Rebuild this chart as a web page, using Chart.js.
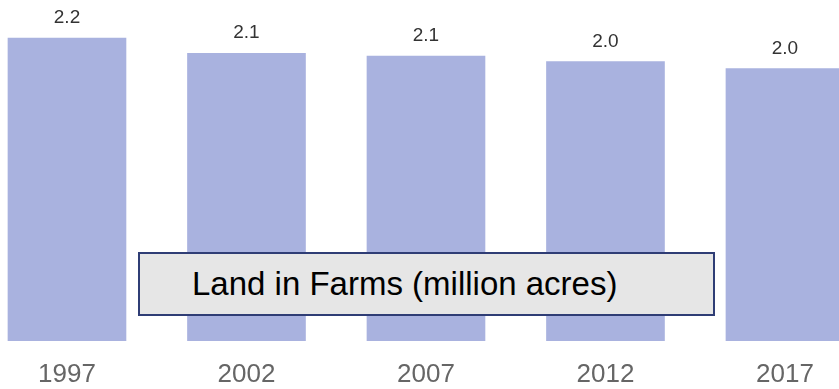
<!DOCTYPE html>
<html>
<head>
<meta charset="utf-8">
<script src="https://cdn.jsdelivr.net/npm/chart.js@4"></script>
<style>
  html, body { margin: 0; padding: 0; background: #ffffff; }
  #wrap { position: relative; width: 839px; height: 389px; overflow: hidden; }
  #chart { position: absolute; left: 0; top: 0; }
  #caption {
    position: absolute; left: 138px; top: 252px; width: 521px; height: 60px;
    background: #e6e6e6; border: 2px solid #2f3d75;
    font-family: "Liberation Sans", Arial, sans-serif; font-size: 33px; color: #000;
    line-height: 60px; padding-left: 52px; box-sizing: content-box; white-space: nowrap;
  }
</style>
</head>
<body>
<div id="wrap">
  <canvas id="chart" width="839" height="389"></canvas>
  <div id="caption">Land in Farms (million acres)</div>
</div>
<script>
// Census years and land in farms (million acres)
const years = [1997, 2002, 2007, 2012, 2017];
const landInFarms = [2.19, 2.08, 2.06, 2.02, 1.97];
const yearLabels = ['1997', '2002', '2007', '2012', '2017'];

// Value labels above each bar, rounded to one decimal
const valueLabels = {
  id: 'valueLabels',
  afterDatasetsDraw(chart) {
    const ctx = chart.ctx;
    const meta = chart.getDatasetMeta(0);
    ctx.save();
    ctx.font = '19px "Liberation Sans", Arial, sans-serif';
    ctx.fillStyle = '#333333';
    ctx.textAlign = 'center';
    ctx.textBaseline = 'middle';
    meta.data.forEach((bar, i) => {
      ctx.fillText(landInFarms[i].toFixed(1), bar.x, bar.y - 20);
    });
    ctx.restore();
  }
};

new Chart(document.getElementById('chart'), {
  type: 'bar',
  data: {
    datasets: [{
      data: years.map((y, i) => ({ x: y, y: landInFarms[i] })),
      backgroundColor: '#a9b2df',
      borderWidth: 0,
      barThickness: 118
    }]
  },
  options: {
    responsive: false,
    animation: false,
    layout: { padding: 0 },
    plugins: { legend: { display: false }, tooltip: { enabled: false } },
    scales: {
      x: {
        type: 'linear',
        offset: false,
        min: 1995.134,
        max: 2018.505,
        grid: { display: false, drawTicks: false },
        border: { display: false },
        afterBuildTicks(scale) {
          scale.ticks = years.map(v => ({ value: v }));
        },
        afterFit(scale) {
          scale.height = 48;
        },
        ticks: {
          autoSkip: false,
          maxRotation: 0,
          padding: 18,
          color: '#666666',
          font: { family: '"Liberation Sans", Arial, sans-serif', size: 26 },
          callback: (v) => yearLabels[years.indexOf(v)]
        }
      },
      y: {
        display: false,
        min: 0,
        max: 2.465
      }
    }
  },
  plugins: [valueLabels]
});
</script>
</body>
</html>
